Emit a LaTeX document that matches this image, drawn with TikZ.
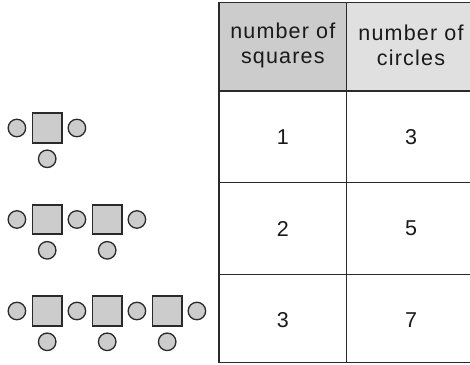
\documentclass[tikz,border=0pt]{standalone}
\usepackage{fontspec}
\setmainfont{Liberation Sans}[LetterSpace=5.5]
\definecolor{hdrA}{HTML}{CCCCCC}
\definecolor{hdrB}{HTML}{E0E0E0}
\definecolor{shp}{HTML}{CCCCCC}
\definecolor{ink}{HTML}{2A2A2A}
\begin{document}
\begin{tikzpicture}[x=1pt,y=-1pt,
  sq/.style={draw=ink,line width=1.6pt,fill=shp,minimum size=29.5pt,inner sep=0pt,rectangle},
  cir/.style={draw=ink,line width=1.3pt,fill=shp,minimum size=17.5pt,inner sep=0pt,circle},
  gridline/.style={draw=ink,line width=1.2pt},
  txt/.style={font=\fontsize{21.5}{25}\selectfont,align=center,inner sep=0pt,text=black!90}]
\useasboundingbox (0,0) rectangle (470,364);
% header fills
\fill[hdrA] (219,2.7) rectangle (346.7,91);
\fill[hdrB] (346.7,2.7) rectangle (480,91);
% table lines
\draw[gridline] (480,2.7) -- (219,2.7) -- (219,362.7) -- (480,362.7);
\draw[gridline] (346.7,2.7) -- (346.7,362.7);
\foreach \yy in {91,182.7,274.3} \draw[gridline] (219,\yy) -- (480,\yy);
% header texts
\node[txt] (h1) at (282.8,45.5) {number of\\squares};
\node[txt] (h2) at (411,45.5) {number of\\circles};
% numbers
\node[txt] (a1) at (282.8,136.8) {1};
\node[txt] (b1) at (411,136.8) {3};
\node[txt] (a2) at (282.8,228.5) {2};
\node[txt] (b2) at (411,228.5) {5};
\node[txt] (a3) at (282.8,320) {3};
\node[txt] (b3) at (411,320) {7};
% patterns
\foreach \r/\n in {0/1,1/2,2/3}{
  \pgfmathsetmacro{\yc}{128+91.5*\r}
  \pgfmathsetmacro{\yb}{158.8+91.5*\r}
  \foreach \k in {1,...,\n}{
    \node[sq] (s\r-\k) at ({47.2+60*(\k-1)},\yc) {};
    \node[cir] (d\r-\k) at ({47.2+60*(\k-1)},\yb) {};
  }
  \foreach \j in {0,...,\n}{
    \node[cir] (c\r-\j) at ({16.9+60*\j},\yc) {};
  }
}
\end{tikzpicture}
\end{document}
